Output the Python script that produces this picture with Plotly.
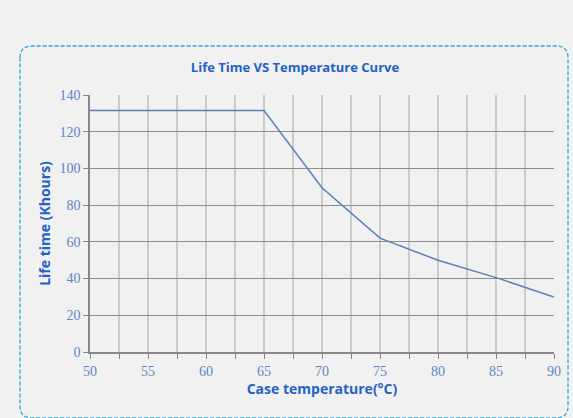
import plotly.graph_objects as go

temps = [50, 65, 70, 75, 80, 85, 90]
life_khours = [131.5, 131.5, 89.5, 62, 50, 40.5, 30]

title = "Life Time VS Temperature Curve"
x_title = "Case temperature(°C)"
y_title = "Life time (Khours)"

blue_txt = "#1f63c6"
tick_blue = "#5b86c8"

fig = go.Figure()
fig.add_trace(go.Scatter(x=temps, y=life_khours, mode="lines",
                         line=dict(color="#5b7fb8", width=1.5), showlegend=False))

# dashed rounded frame around the chart (paper coords)
W, H = 573 - 90 - 19, 418 - 95 - 66
def px(x):
    return (x - 90) / W
def py(y):
    return (352 - y) / H
r = 12
x0, x1, y0, y1 = 20, 568, 46, 418
path = (f"M {px(x0)},{py(y0 + r)} Q {px(x0)},{py(y0)} {px(x0 + r)},{py(y0)} "
        f"L {px(x1 - r)},{py(y0)} Q {px(x1)},{py(y0)} {px(x1)},{py(y0 + r)} "
        f"L {px(x1)},{py(y1 - r)} Q {px(x1)},{py(y1)} {px(x1 - r)},{py(y1)} "
        f"L {px(x0 + r)},{py(y1)} Q {px(x0)},{py(y1)} {px(x0)},{py(y1 - r)} Z")
fig.add_shape(type="path", path=path, xref="paper", yref="paper",
              line=dict(color="#29a8e0", width=1.3, dash="4px,2px"), layer="below")

fig.update_layout(
    width=573, height=418,
    margin=dict(l=90, r=19, t=95, b=66),
    paper_bgcolor="#f1f1f1", plot_bgcolor="#f1f1f1",
    title=dict(text=f"<b>{title}</b>", x=295 / 573, xanchor="center",
               y=1 - 67 / 418, yanchor="middle",
               font=dict(family="Open Sans", size=13, color=blue_txt)),
    xaxis=dict(range=[50, 90], dtick=5, tick0=50,
               showgrid=True, gridcolor="#cbcbcb", gridwidth=1.8,
               minor=dict(dtick=2.5, showgrid=True, gridcolor="#cbcbcb", gridwidth=1.8,
                          ticks="outside", ticklen=5, tickcolor="#888"),
               ticks="outside", ticklen=5, tickcolor="#888",
               showline=True, linecolor="#888", linewidth=1.5, zeroline=False,
               tickfont=dict(family="Liberation Serif", size=14, color=tick_blue),
               title=dict(text=f"<b>{x_title}</b>", standoff=7,
                          font=dict(family="Open Sans", size=14, color=blue_txt))),
    yaxis=dict(range=[0, 140], dtick=20,
               showgrid=True, gridcolor="#8e8e8e", gridwidth=1.3,
               ticks="outside", ticklen=5, tickcolor="#888",
               showline=True, linecolor="#888", linewidth=1.5, zeroline=False,
               tickfont=dict(family="Liberation Serif", size=14, color=tick_blue),
               title=dict(text=f"<b>{y_title}</b>", standoff=6,
                          font=dict(family="Open Sans", size=14, color=blue_txt))),
)

fig.write_html("out.html", config={"displayModeBar": False},
               post_script="document.body.style.margin='0';document.body.style.background='#f1f1f1';")
